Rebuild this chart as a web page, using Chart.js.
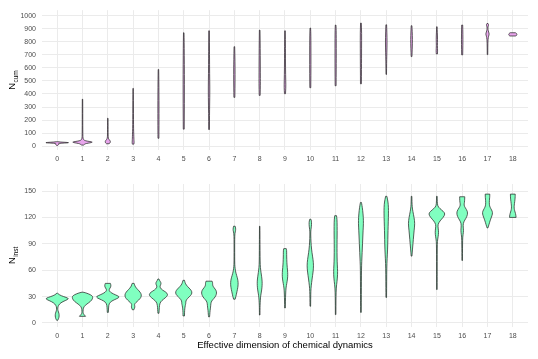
<!DOCTYPE html>
<html>
<head>
<meta charset="utf-8">
<script src="https://cdn.jsdelivr.net/npm/chart.js@4/dist/chart.umd.min.js"></script>
<style>
  html, body { margin: 0; padding: 0; background: #fff; }
  canvas { display: block; }
</style>
</head>
<body>
<canvas id="grafico-cum" width="538" height="172"></canvas>
<canvas id="grafico-inst" width="538" height="187"></canvas>
<script>
// categorias (dimensao efetiva)
var dims = [0, 1, 2, 3, 4, 5, 6, 7, 8, 9, 10, 11, 12, 13, 14, 15, 16, 17, 18];
var ncumTicks = [0, 100, 200, 300, 400, 500, 600, 700, 800, 900, 1000];
var ninstTicks = [0, 30, 60, 90, 120, 150];

// perfis dos violinos: [valor, meia largura em unidades de categoria], de baixo pra cima
var ncumViolinos = [
  [[5,0.02],[9,0.05],[13,0.06],[18,0.04],[22,0.12],[25,0.47],[28,0.42],[31,0.12],[34,0.02]],
  [[8,0.05],[15,0.08],[20,0.15],[25,0.3],[30,0.41],[35,0.3],[40,0.12],[50,0.03],[70,0.015],[120,0.012],[200,0.01],[300,0.01],[360,0.008]],
  [[18,0.05],[22,0.08],[30,0.1],[38,0.1],[46,0.07],[55,0.03],[70,0.015],[100,0.012],[150,0.01],[214,0.008]],
  [[15,0.03],[25,0.04],[40,0.035],[60,0.03],[90,0.025],[130,0.018],[200,0.015],[300,0.012],[400,0.01],[443,0.008]],
  [[60,0.018],[120,0.02],[200,0.022],[300,0.022],[400,0.02],[500,0.016],[588,0.01]],
  [[130,0.018],[250,0.022],[400,0.025],[550,0.025],[700,0.02],[800,0.016],[870,0.01]],
  [[127,0.015],[250,0.018],[380,0.028],[450,0.03],[550,0.022],[700,0.018],[885,0.012]],
  [[374,0.018],[450,0.024],[550,0.028],[650,0.024],[763,0.012]],
  [[389,0.018],[480,0.028],[560,0.025],[700,0.022],[800,0.018],[890,0.012]],
  [[402,0.02],[450,0.035],[500,0.03],[600,0.02],[750,0.018],[885,0.012]],
  [[448,0.018],[550,0.024],[700,0.025],[850,0.022],[906,0.012]],
  [[463,0.018],[600,0.024],[750,0.025],[900,0.022],[929,0.012]],
  [[478,0.018],[600,0.022],[750,0.025],[870,0.028],[944,0.015]],
  [[550,0.01],[650,0.015],[720,0.025],[800,0.032],[870,0.025],[931,0.014]],
  [[687,0.015],[750,0.028],[820,0.035],[880,0.025],[924,0.014]],
  [[707,0.022],[730,0.032],[770,0.018],[820,0.028],[870,0.018],[916,0.01]],
  [[700,0.02],[780,0.028],[860,0.028],[929,0.02]],
  [[702,0.01],[760,0.012],[820,0.018],[845,0.045],[860,0.07],[875,0.045],[895,0.018],[915,0.018],[925,0.04],[935,0.04],[941,0.02]],
  [[845,0.12],[852,0.16],[860,0.16],[866,0.14],[870,0.1]]
];

var ninstViolinos = [
  [[3,0.02],[5,0.06],[8,0.08],[11,0.07],[14,0.03],[17,0.02],[20,0.05],[23,0.14],[25.5,0.32],[27.5,0.47],[29,0.36],[31,0.15],[33,0.04],[34,0.01]],
  [[7.5,0.12],[9,0.08],[10.5,0.03],[13,0.02],[17,0.03],[20,0.1],[23,0.25],[26,0.37],[29,0.41],[31,0.38],[33,0.25],[34.5,0.1],[35,0.02]],
  [[12,0.02],[18,0.03],[22,0.05],[25,0.15],[27.5,0.35],[29.5,0.47],[31,0.38],[33,0.22],[35,0.1],[37,0.05],[38.5,0.06],[41,0.12],[43.5,0.12],[45,0.1]],
  [[15,0.03],[17,0.06],[19,0.07],[21,0.05],[23,0.1],[26,0.22],[29,0.31],[32,0.33],[35,0.28],[38,0.18],[41,0.09],[43,0.06],[45,0.04]],
  [[11,0.02],[15,0.03],[20,0.04],[24,0.08],[27,0.2],[30,0.33],[32.5,0.37],[35,0.3],[37.5,0.15],[40,0.07],[42,0.06],[44,0.1],[46,0.1],[48,0.05],[50,0.02]],
  [[8,0.03],[12,0.03],[16,0.04],[20,0.06],[22,0.08],[25,0.08],[28,0.15],[31,0.27],[34,0.33],[37,0.3],[40,0.2],[43,0.1],[46,0.05],[48.5,0.03]],
  [[7,0.02],[10,0.03],[14,0.04],[18,0.06],[22,0.07],[25,0.1],[28,0.2],[31,0.27],[34,0.3],[37,0.28],[40,0.2],[42,0.15],[44,0.14],[46,0.14],[47.5,0.12]],
  [[27,0.03],[30,0.06],[34,0.09],[38,0.12],[42,0.145],[46,0.15],[50,0.13],[54,0.09],[58,0.05],[62,0.03],[66,0.015],[75,0.012],[85,0.012],[95,0.012],[102,0.02],[105,0.05],[108,0.05],[110,0.03]],
  [[9,0.01],[15,0.012],[20,0.015],[26,0.025],[31,0.04],[35,0.065],[40,0.09],[45,0.1],[50,0.09],[55,0.065],[60,0.04],[66,0.02],[75,0.015],[90,0.012],[100,0.01],[110,0.008]],
  [[17,0.012],[25,0.018],[33,0.025],[40,0.04],[45,0.07],[50,0.1],[55,0.11],[60,0.1],[66,0.08],[72,0.07],[78,0.065],[83,0.065],[84.5,0.05]],
  [[19,0.012],[28,0.015],[36,0.02],[42,0.035],[50,0.07],[58,0.11],[65,0.13],[72,0.11],[80,0.065],[88,0.035],[96,0.02],[104,0.015],[108,0.035],[112,0.05],[116,0.045],[118,0.02]],
  [[9.5,0.01],[20,0.012],[30,0.015],[40,0.025],[47,0.055],[55,0.08],[62,0.075],[70,0.06],[80,0.055],[90,0.055],[100,0.06],[110,0.06],[118,0.055],[122,0.035]],
  [[12,0.012],[25,0.015],[40,0.018],[55,0.02],[65,0.025],[75,0.04],[85,0.055],[95,0.07],[105,0.085],[113,0.1],[120,0.095],[128,0.07],[134,0.04],[137,0.02]],
  [[29,0.012],[40,0.015],[55,0.018],[68,0.025],[78,0.045],[90,0.06],[100,0.065],[110,0.075],[120,0.085],[128,0.09],[135,0.08],[140,0.055],[144,0.025]],
  [[76,0.015],[85,0.04],[95,0.07],[105,0.1],[113,0.13],[120,0.1],[127,0.05],[132,0.025],[138,0.015],[144,0.012]],
  [[38,0.01],[55,0.012],[70,0.012],[85,0.015],[93,0.02],[98,0.05],[103,0.07],[108,0.05],[112,0.04],[116,0.12],[120,0.25],[124,0.33],[127,0.25],[130,0.12],[133,0.03],[138,0.015],[144,0.012]],
  [[71,0.01],[80,0.012],[90,0.015],[98,0.02],[103,0.05],[107,0.05],[111,0.035],[115,0.06],[119,0.15],[123,0.21],[127,0.21],[131,0.12],[134,0.07],[137,0.09],[141,0.1],[143.5,0.1]],
  [[108,0.015],[112,0.06],[116,0.1],[120,0.15],[124,0.2],[127,0.19],[130,0.13],[133,0.08],[137,0.07],[141,0.08],[144,0.09],[146.5,0.09]],
  [[120,0.13],[123,0.12],[126,0.09],[129,0.06],[132,0.05],[136,0.065],[140,0.085],[144,0.095],[146.5,0.095]]
];

var fonte = 'Liberation Sans, Arial, Helvetica, sans-serif';

// desenha os violinos usando as escalas do proprio grafico
var pluginViolino = {
  id: 'violino',
  afterDatasetsDraw: function(chart) {
    var ds = chart.data.datasets[0];
    var xs = chart.scales.x, ys = chart.scales.y;
    var passo = xs.getPixelForValue(1) - xs.getPixelForValue(0);
    var ctx = chart.ctx;
    var area = chart.chartArea;
    ctx.save();
    ctx.beginPath();
    ctx.rect(area.left, area.top, area.right - area.left, area.bottom - area.top);
    ctx.clip();
    ds.violinos.forEach(function(perfil, i) {
      var cx = xs.getPixelForValue(dims[i]);
      var dir = perfil.map(function(p) { return [cx + p[1] * passo, ys.getPixelForValue(p[0])]; });
      var esq = perfil.slice().reverse().map(function(p) { return [cx - p[1] * passo, ys.getPixelForValue(p[0])]; });
      ctx.beginPath();
      lado(ctx, dir, true);
      lado(ctx, esq, false);
      ctx.closePath();
      ctx.fillStyle = ds.corViolino;
      ctx.fill();
      ctx.lineWidth = 0.75;
      ctx.strokeStyle = '#2b2b2b';
      ctx.lineJoin = 'round';
      ctx.stroke();
    });
    ctx.restore();
  }
};

function lado(ctx, pts, primeiro) {
  if (primeiro) ctx.moveTo(pts[0][0], pts[0][1]);
  else ctx.lineTo(pts[0][0], pts[0][1]);
  for (var k = 1; k < pts.length - 1; k++) {
    var mx = (pts[k][0] + pts[k + 1][0]) / 2;
    var my = (pts[k][1] + pts[k + 1][1]) / 2;
    ctx.quadraticCurveTo(pts[k][0], pts[k][1], mx, my);
  }
  var u = pts[pts.length - 1];
  ctx.lineTo(u[0], u[1]);
}

// titulo do eixo y com subscrito (N_cum, N_inst)
var pluginTituloY = {
  id: 'tituloY',
  afterDraw: function(chart, args, opts) {
    var ctx = chart.ctx;
    var area = chart.chartArea;
    var cy = (area.top + area.bottom) / 2;
    ctx.save();
    ctx.translate(opts.x, cy);
    ctx.rotate(-Math.PI / 2);
    ctx.fillStyle = '#000';
    ctx.textBaseline = 'alphabetic';
    ctx.font = '9.5px ' + fonte;
    var wN = ctx.measureText('N').width;
    ctx.font = '6.5px ' + fonte;
    var wS = ctx.measureText(opts.sub).width;
    var x0 = -(wN + wS) / 2;
    ctx.font = '9.5px ' + fonte;
    ctx.fillText('N', x0, 3.4);
    ctx.font = '6.5px ' + fonte;
    ctx.fillText(opts.sub, x0 + wN + 0.3, 5.6);
    ctx.restore();
  }
};

function montarGrafico(id, violinos, cor, ticksY, yMin, yMax, sub, padTopo, alturaX, comTitulo) {
  return new Chart(document.getElementById(id).getContext('2d'), {
    type: 'scatter',
    data: {
      datasets: [{
        data: dims.map(function(d, i) { return { x: d, y: violinos[i][violinos[i].length - 1][0] }; }),
        pointRadius: 0,
        showLine: false,
        violinos: violinos,
        corViolino: cor
      }]
    },
    options: {
      responsive: false,
      animation: false,
      devicePixelRatio: 1,
      events: [],
      layout: { padding: { left: 0, right: 10, top: padTopo, bottom: 0 } },
      plugins: {
        legend: { display: false },
        tooltip: { enabled: false },
        tituloY: { x: 12, sub: sub }
      },
      scales: {
        x: {
          type: 'linear',
          min: -0.6,
          max: 18.6,
          afterBuildTicks: function(ax) { ax.ticks = dims.map(function(v) { return { value: v }; }); },
          afterFit: function(ax) { ax.height = alturaX; },
          grid: { color: '#ebebeb', lineWidth: 1, drawTicks: false },
          border: { display: false },
          ticks: {
            padding: 5, color: '#4d4d4d', font: { family: fonte, size: 7 }, maxRotation: 0, autoSkip: false,
            callback: function(v) { return String(v); }
          },
          title: comTitulo ? {
            display: true,
            text: 'Effective dimension of chemical dynamics',
            color: '#000',
            font: { family: fonte, size: 9.5 },
            padding: { top: 0, bottom: 8 }
          } : { display: false }
        },
        y: {
          min: yMin,
          max: yMax,
          afterBuildTicks: function(ax) { ax.ticks = ticksY.map(function(v) { return { value: v }; }); },
          afterFit: function(ax) { ax.width = 42; },
          grid: { color: '#ebebeb', lineWidth: 1, drawTicks: false },
          border: { display: false },
          ticks: {
            padding: 6, color: '#4d4d4d', font: { family: fonte, size: 7 },
            callback: function(v) { return String(v); }
          }
        }
      }
    },
    plugins: [pluginViolino, pluginTituloY]
  });
}

function inicializarGraficos() {
  montarGrafico('grafico-cum', ncumViolinos, '#e8a5ec', ncumTicks, -30, 1043, 'cum', 9, 22, false);
  montarGrafico('grafico-inst', ninstViolinos, '#80ffc0', ninstTicks, -4.6, 158, 'inst', 12, 32, true);
}

window.onload = inicializarGraficos;
</script>
</body>
</html>
